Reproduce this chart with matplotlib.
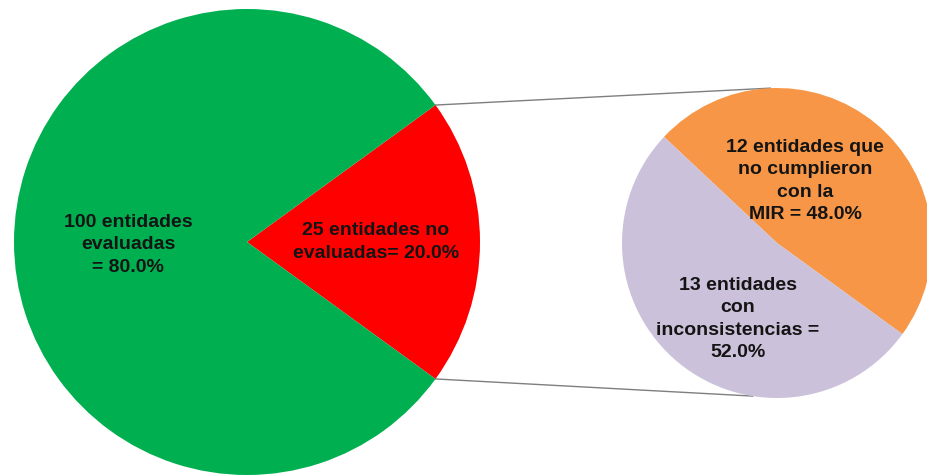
import numpy as np
import matplotlib
matplotlib.use('Agg')
from matplotlib import pyplot as plt

plt.rcParams['font.family'] = ['Liberation Sans', 'DejaVu Sans']

# Datos
principal_valores = [25, 100]
principal_colores = ['#FF0000', '#00B050']
principal_etiquetas = ['25 entidades no\nevaluadas= 20.0%', '100 entidades\nevaluadas\n= 80.0%']

detalle_valores = [12, 13]
detalle_colores = ['#F79646', '#CCC1DA']
detalle_etiquetas = ['12 entidades que\nno cumplieron\ncon la\nMIR = 48.0%',
                     '13 entidades\ncon\ninconsistencias =\n52.0%']

W, H = 927, 477
fig = plt.figure(figsize=(W / 100, H / 100), dpi=100)
ax = fig.add_axes([0, 0, 1, 1])

# Pastel principal
c1 = (247, H - 243)
r1 = 233
ang1 = 360 * principal_valores[0] / sum(principal_valores)
ax.pie(principal_valores, colors=principal_colores, startangle=-ang1 / 2,
       center=c1, radius=r1, wedgeprops=dict(linewidth=0))

# Pastel de detalle
c2 = (777, H - 244)
r2 = 155
ax.pie(detalle_valores, colors=detalle_colores, startangle=-36,
       center=c2, radius=r2, wedgeprops=dict(linewidth=0))

# Lineas de conexion
a = np.deg2rad(ang1 / 2)
p_sup = (c1[0] + r1 * np.cos(a), c1[1] + r1 * np.sin(a))
p_inf = (c1[0] + r1 * np.cos(-a), c1[1] + r1 * np.sin(-a))
b_sup = np.deg2rad(92.5)
b_inf = np.deg2rad(261)
q_sup = (c2[0] + r2 * np.cos(b_sup), c2[1] + r2 * np.sin(b_sup))
q_inf = (c2[0] + r2 * np.cos(b_inf), c2[1] + r2 * np.sin(b_inf))
ax.plot([p_sup[0], q_sup[0]], [p_sup[1], q_sup[1]], color='#7F7F7F', lw=1, zorder=0)
ax.plot([p_inf[0], q_inf[0]], [p_inf[1], q_inf[1]], color='#7F7F7F', lw=1, zorder=0)

# Etiquetas
estilo = dict(ha='center', va='center', fontsize=14, fontweight='bold',
              color='#141414', linespacing=1.4)
ax.text(376, H - 242, principal_etiquetas[0], **estilo)
ax.text(128, H - 245, principal_etiquetas[1], **estilo)
ax.text(805, H - 181, detalle_etiquetas[0], **estilo)
ax.text(738, H - 319, detalle_etiquetas[1], **estilo)

ax.set_xlim(0, W)
ax.set_ylim(0, H)
ax.set_aspect('equal')
ax.axis('off')

plt.savefig('out.png', dpi=100)
